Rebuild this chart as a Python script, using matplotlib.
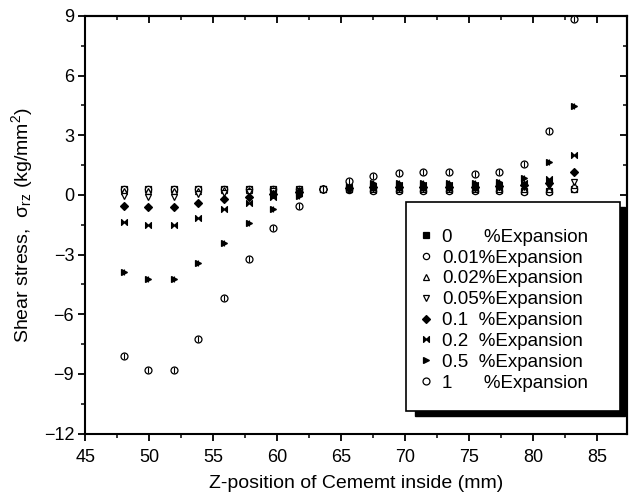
import matplotlib

matplotlib.use("Agg")
import matplotlib.pyplot as plt
from matplotlib.patches import Rectangle
from matplotlib.path import Path
from matplotlib.ticker import MultipleLocator

# Z-position (mm)
z_pos = [48.0, 49.9, 51.9, 53.8, 55.8, 57.8, 59.7, 61.7, 63.6, 65.6,
         67.5, 69.5, 71.4, 73.4, 75.4, 77.3, 79.3, 81.2, 83.2]

# shear stress, kg/mm^2, one list per expansion ratio
exp_0 = [0.32, 0.32, 0.32, 0.32, 0.31, 0.31, 0.30, 0.30, 0.29, 0.28,
         0.26, 0.25, 0.25, 0.25, 0.25, 0.25, 0.22, 0.22, 0.28]
exp_001 = [0.30, 0.28, 0.28, 0.30, 0.30, 0.30, 0.30, 0.28, 0.28, 0.24,
           0.22, 0.20, 0.20, 0.20, 0.20, 0.20, 0.15, 0.15, 0.30]
exp_002 = [0.22, 0.20, 0.20, 0.22, 0.25, 0.25, 0.26, 0.27, 0.28, 0.28,
           0.28, 0.28, 0.28, 0.28, 0.28, 0.30, 0.30, 0.32, 0.48]
exp_005 = [-0.05, -0.08, -0.08, 0.05, 0.12, 0.15, 0.20, 0.22, 0.28, 0.30,
           0.33, 0.35, 0.35, 0.35, 0.35, 0.38, 0.40, 0.45, 0.67]
exp_01 = [-0.55, -0.62, -0.60, -0.39, -0.20, -0.10, 0.05, 0.15, 0.28, 0.35,
          0.40, 0.42, 0.42, 0.42, 0.42, 0.45, 0.50, 0.62, 1.14]
exp_02 = [-1.35, -1.51, -1.51, -1.18, -0.72, -0.39, -0.10, 0.12, 0.28, 0.40,
          0.45, 0.48, 0.50, 0.50, 0.50, 0.52, 0.60, 0.80, 2.02]
exp_05 = [-3.90, -4.25, -4.25, -3.41, -2.40, -1.42, -0.72, -0.05, 0.28, 0.50,
          0.58, 0.62, 0.62, 0.62, 0.62, 0.65, 0.84, 1.68, 4.49]
exp_1 = [-8.10, -8.79, -8.79, -7.23, -5.16, -3.24, -1.68, -0.55, 0.28, 0.72,
         0.96, 1.09, 1.13, 1.13, 1.06, 1.14, 1.55, 3.23, 8.83]

labels = ["0      %Expansion", "0.01%Expansion", "0.02%Expansion",
          "0.05%Expansion", "0.1  %Expansion", "0.2  %Expansion",
          "0.5  %Expansion", "1      %Expansion"]

x_ticks = [45, 50, 55, 60, 65, 70, 75, 80, 85]
y_ticks = [-12, -9, -6, -3, 0, 3, 6, 9]

plt.rcParams["font.family"] = ["Liberation Sans", "DejaVu Sans"]
plt.rcParams["mathtext.fontset"] = "custom"
plt.rcParams["mathtext.rm"] = "Liberation Sans"
plt.rcParams["mathtext.it"] = "Liberation Sans"

bowtie = Path([(-1, -1), (-1, 1), (1, -1), (1, 1), (-1, -1)],
              [Path.MOVETO, Path.LINETO, Path.LINETO, Path.LINETO, Path.CLOSEPOLY])


def main() -> None:
    fig = plt.figure(figsize=(6.29, 4.98), dpi=100)
    ax = fig.add_axes([0.1356, 0.1295, 0.861, 0.8384])

    series = [exp_0, exp_001, exp_002, exp_005, exp_01, exp_02, exp_05, exp_1]
    # (marker, size, filled)
    styles = [("s", 4.0, True), ("o", 4.5, False), ("^", 4.8, False),
              ("v", 4.8, False), ("D", 4.0, True), (bowtie, 4.2, True),
              (">", 4.8, True), ("o", 5.0, False)]

    handles = []
    for vals, (mk, ms, filled), lab in zip(series, styles, labels):
        h, = ax.plot(z_pos, vals, linestyle="none", marker=mk, markersize=ms,
                     markerfacecolor="k" if filled else "white",
                     markeredgecolor="k", markeredgewidth=0.9, label=lab,
                     zorder=3)
        handles.append(h)

    # Origin-style small vertical bars through the big-stress markers
    for vals in (exp_05, exp_1):
        ax.plot(z_pos, vals, linestyle="none", marker="|", markersize=5,
                markeredgecolor="k", markeredgewidth=0.8, zorder=4)

    ax.set_xlim(45, 87.3)
    ax.set_ylim(-12, 9)
    ax.set_xticks(x_ticks)
    ax.set_yticks(y_ticks)
    ax.xaxis.set_minor_locator(MultipleLocator(2.5))
    ax.yaxis.set_minor_locator(MultipleLocator(1.5))

    for sp in ax.spines.values():
        sp.set_linewidth(1.5)

    ax.tick_params(axis="both", which="major", direction="out", length=5,
                   width=1.3, labelsize=13, pad=3)
    ax.tick_params(axis="both", which="minor", direction="out", length=3,
                   width=1.1)
    ax.tick_params(axis="x", which="major", pad=6.5)

    # mirrored ticks on top and right point inwards
    top = ax.secondary_xaxis("top")
    top.set_xticks(x_ticks)
    top.xaxis.set_minor_locator(MultipleLocator(2.5))
    top.tick_params(which="major", direction="in", length=5, width=1.3,
                    labeltop=False)
    top.tick_params(which="minor", direction="in", length=3, width=1.1)
    right = ax.secondary_yaxis("right")
    right.set_yticks(y_ticks)
    right.yaxis.set_minor_locator(MultipleLocator(1.5))
    right.tick_params(which="major", direction="in", length=5, width=1.3,
                      labelright=False)
    right.tick_params(which="minor", direction="in", length=3, width=1.1)
    for sec in (top, right):
        for sp in sec.spines.values():
            sp.set_linewidth(1.5)

    ax.set_xlabel("Z-position of Cememt inside (mm)", fontsize=14, labelpad=6)
    ax.set_ylabel(r"Shear stress,  $\sigma_{rz}$ (kg/mm$^2$)", fontsize=14,
                  labelpad=6)

    # legend frame with a solid drop shadow
    ax.add_patch(Rectangle((0.609, 0.043), 0.388, 0.499, transform=ax.transAxes,
                           facecolor="k", edgecolor="k", zorder=5))
    ax.add_patch(Rectangle((0.592, 0.055), 0.396, 0.499, transform=ax.transAxes,
                           facecolor="white", edgecolor="k", linewidth=1.2,
                           zorder=6))
    leg = ax.legend(handles=handles, loc="upper left",
                    bbox_to_anchor=(0.611, 0.491), frameon=False,
                    fontsize=13.5, handlelength=1.0, handletextpad=0.4,
                    labelspacing=0.2, borderpad=0.0, borderaxespad=0.0)
    leg.set_zorder(7)

    fig.savefig("out.png", dpi=100)
    plt.close(fig)


if __name__ == "__main__":
    main()
